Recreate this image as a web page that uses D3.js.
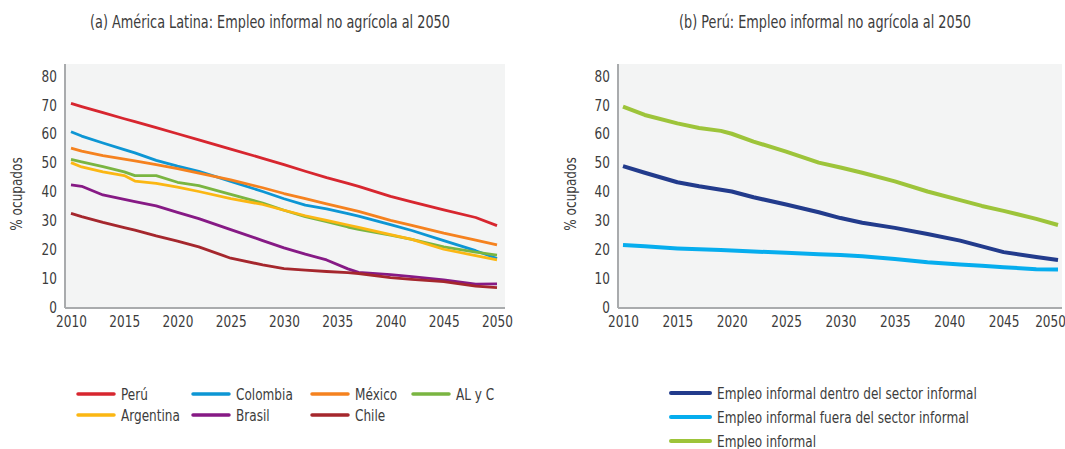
<!DOCTYPE html>
<html>
<head>
<meta charset="utf-8">
<script src="https://cdn.jsdelivr.net/npm/d3@7"></script>
<style>
  body { margin: 0; background: #fff; }
  svg text { font-family: "DejaVu Sans Condensed", "Liberation Sans Narrow", "Roboto", sans-serif; fill: #3c3c3c; }
</style>
</head>
<body>
<div id="chart"></div>
<script>
// ---- data: panel (a) ----
var years_a = [2010, 2011, 2013, 2015, 2016, 2018, 2020, 2022, 2025, 2028, 2030, 2032, 2034, 2036, 2037, 2040, 2042, 2045, 2048, 2050];
var peru      = [70.5, 69.4, 67.3, 65.2, 64.2, 62.1, 60.0, 57.9, 54.7, 51.5, 49.3, 47.0, 44.8, 42.8, 41.8, 38.3, 36.4, 33.6, 31.0, 28.2];
var colombia  = [60.7, 59.2, 56.8, 54.5, 53.4, 50.8, 48.8, 47.0, 43.5, 40.0, 37.5, 35.3, 34.0, 32.3, 31.5, 28.5, 26.5, 23.0, 19.5, 16.8];
var mexico    = [55.0, 54.0, 52.4, 51.2, 50.6, 49.3, 47.9, 46.4, 44.0, 41.3, 39.3, 37.5, 35.7, 34.0, 33.1, 30.0, 28.3, 25.6, 23.2, 21.5];
var alyc      = [51.1, 50.3, 48.6, 46.8, 45.5, 45.5, 43.2, 42.0, 39.0, 36.0, 33.5, 31.3, 29.6, 27.7, 26.9, 24.9, 23.4, 20.8, 19.0, 18.0];
var argentina = [50.0, 48.5, 46.8, 45.5, 43.6, 42.8, 41.5, 40.0, 37.5, 35.5, 33.5, 31.6, 30.0, 28.4, 27.6, 25.1, 23.4, 20.0, 17.8, 16.3];
var brasil    = [42.3, 41.8, 38.8, 37.3, 36.5, 35.0, 32.8, 30.6, 26.8, 23.0, 20.5, 18.3, 16.3, 13.2, 12.0, 11.2, 10.5, 9.4, 7.9, 8.0];
var chile     = [32.4, 31.3, 29.3, 27.5, 26.6, 24.6, 22.8, 20.8, 16.9, 14.6, 13.3, 12.8, 12.3, 11.9, 11.6, 10.2, 9.6, 8.8, 7.2, 6.7];

// ---- data: panel (b) ----
var years_b = [2010, 2012, 2015, 2017, 2019, 2020, 2022, 2025, 2028, 2030, 2032, 2035, 2038, 2041, 2043, 2045, 2048, 2050];
var dentro  = [48.8, 46.5, 43.2, 41.8, 40.6, 40.0, 38.0, 35.5, 32.8, 30.8, 29.2, 27.4, 25.3, 23.0, 21.0, 19.0, 17.3, 16.3];
var fuera   = [21.5, 21.0, 20.3, 20.0, 19.7, 19.6, 19.2, 18.8, 18.3, 18.0, 17.6, 16.6, 15.5, 14.7, 14.3, 13.8, 13.1, 13.0];
var informal = [69.4, 66.5, 63.6, 62.0, 61.0, 60.0, 57.3, 53.8, 50.0, 48.3, 46.5, 43.5, 40.0, 37.0, 35.0, 33.3, 30.5, 28.4];

var x_ticks = [2010, 2015, 2020, 2025, 2030, 2035, 2040, 2045, 2050];
var y_ticks = [0, 10, 20, 30, 40, 50, 60, 70, 80];

var series_a = [
    {name: "Perú", values: peru, color: "#d7262f"},
    {name: "Colombia", values: colombia, color: "#0d96d4"},
    {name: "México", values: mexico, color: "#f5821f"},
    {name: "AL y C", values: alyc, color: "#7ab541"},
    {name: "Argentina", values: argentina, color: "#fbb713"},
    {name: "Brasil", values: brasil, color: "#861a85"},
    {name: "Chile", values: chile, color: "#a5272d"}
];
var series_b = [
    {name: "Empleo informal dentro del sector informal", values: dentro, color: "#223b8c"},
    {name: "Empleo informal fuera del sector informal", values: fuera, color: "#06adee"},
    {name: "Empleo informal", values: informal, color: "#9dc43a"}
];

var squeeze = 0.84;  // the original font is a condensed face

var svg = d3.select("#chart").append("svg")
    .attr("width", 1065)
    .attr("height", 449);

// text squeezed horizontally around its anchor point
function add_text(x, y, str, size, anchor, rotate) {
    var g = svg.append("g")
        .attr("transform", "translate(" + x + "," + y + ")" + (rotate ? " rotate(" + rotate + ")" : ""));
    return g.append("text")
        .attr("transform", "scale(" + squeeze + ",1)")
        .attr("text-anchor", anchor || "start")
        .style("font-size", size + "px")
        .text(str);
}

function draw_panel(opts) {
    var xscale = d3.scaleLinear().domain([2010, 2050]).range([opts.x0, opts.x1]);
    var yscale = d3.scaleLinear().domain([0, 80]).range([307, 76]);

    // plot background
    svg.append("rect")
        .attr("x", opts.bx0)
        .attr("y", 64)
        .attr("width", opts.bx1 - opts.bx0)
        .attr("height", yscale(0) - 64)
        .attr("fill", "#f3f4f4");

    // frame lines (left + bottom)
    svg.append("line")
        .attr("x1", opts.bx0).attr("x2", opts.bx0)
        .attr("y1", 64).attr("y2", yscale(0) + 1)
        .attr("stroke", "#a9abad").attr("stroke-width", 2);
    svg.append("line")
        .attr("x1", opts.bx0).attr("x2", opts.bx1)
        .attr("y1", yscale(0) + 1).attr("y2", yscale(0) + 1)
        .attr("stroke", "#a9abad").attr("stroke-width", 2);

    var yaxis = d3.axisLeft(yscale).tickValues(y_ticks).tickSize(0).tickPadding(0);
    var gy = svg.append("g")
        .attr("transform", "translate(" + (opts.bx0 - 8) + ",0)")
        .call(yaxis);
    gy.select(".domain").remove();
    gy.selectAll("text")
        .attr("transform", "scale(" + squeeze + ",1)")
        .style("font-size", "16px").style("fill", "#3c3c3c");

    var xaxis = d3.axisBottom(xscale).tickValues(x_ticks).tickFormat(d3.format("d")).tickSize(0).tickPadding(0);
    var gx = svg.append("g")
        .attr("transform", "translate(0," + 316 + ")")
        .call(xaxis);
    gx.select(".domain").remove();
    gx.selectAll("text")
        .attr("transform", "scale(" + squeeze + ",1)")
        .style("font-size", "16px").style("fill", "#3c3c3c");
    // last label pulled in when it would run off the page
    if (opts.last_shift) {
        gx.selectAll(".tick").filter(function(d) { return d === 2050; })
            .select("text").attr("x", opts.last_shift / squeeze);
    }

    // y label
    add_text(opts.ylab_x, 194, "% ocupados", 16, "middle", -90);

    // title
    add_text(opts.title_x, 28, opts.title, 17, "middle");

    var line = d3.line()
        .x(function(d) { return xscale(d[0]); })
        .y(function(d) { return yscale(d[1]); });

    opts.series.forEach(function(s) {
        var pts = opts.years.map(function(y, i) { return [y, s.values[i]]; });
        svg.append("path")
            .datum(pts)
            .attr("d", line)
            .attr("fill", "none")
            .attr("stroke", s.color)
            .attr("stroke-width", opts.lw)
            .attr("stroke-linejoin", "round");
    });
}

draw_panel({
    x0: 71, x1: 497, bx0: 65, bx1: 505, ylab_x: 22, title_x: 270,
    title: "(a) América Latina: Empleo informal no agrícola al 2050",
    years: years_a, series: series_a, lw: 2.8
});
draw_panel({
    x0: 623, x1: 1058, bx0: 618, bx1: 1062, ylab_x: 576, title_x: 825,
    title: "(b) Perú: Empleo informal no agrícola al 2050",
    years: years_b, series: series_b, lw: 4, last_shift: -8
});

// legend (a): 4 columns, 2 rows
var leg_a_cols = [78, 193, 312, 413];
var leg_a_rows = [394, 415];
series_a.forEach(function(s, i) {
    var cx = leg_a_cols[i % 4];
    var cy = leg_a_rows[Math.floor(i / 4)];
    svg.append("line")
        .attr("x1", cx).attr("x2", cx + 36)
        .attr("y1", cy).attr("y2", cy)
        .attr("stroke", s.color).attr("stroke-width", 3.5)
        .attr("stroke-linecap", "round");
    add_text(cx + 43, cy + 5.5, s.name, 16);
});

// legend (b): single column
var leg_b_rows = [393, 417, 441];
series_b.forEach(function(s, i) {
    var cy = leg_b_rows[i];
    svg.append("line")
        .attr("x1", 671).attr("x2", 710)
        .attr("y1", cy).attr("y2", cy)
        .attr("stroke", s.color).attr("stroke-width", 4)
        .attr("stroke-linecap", "round");
    add_text(717, cy + 5.5, s.name, 16);
});
</script>
</body>
</html>
